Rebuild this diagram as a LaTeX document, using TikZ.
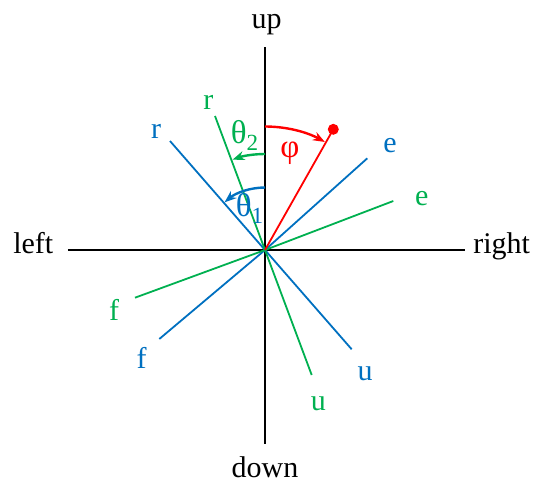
\documentclass[tikz,border=0pt]{standalone}
\usepackage{fontspec}
\setmainfont{Liberation Serif}
\usetikzlibrary{arrows.meta}
\definecolor{mblue}{RGB}{0,112,192}
\definecolor{mgreen}{RGB}{0,176,80}
\definecolor{mred}{RGB}{255,0,0}
\begin{document}
\begin{tikzpicture}[x=1pt,y=1pt,
  lbl/.style={anchor=base,inner sep=0pt,font=\fontsize{30}{36}\selectfont},
  grk/.style={anchor=base,inner sep=0pt,font=\fontsize{33}{38}\selectfont},
  axisline/.style={line width=2pt,black},
  bl/.style={line width=1.8pt,mblue},
  gl/.style={line width=1.8pt,mgreen},
  rl/.style={line width=1.8pt,mred},
  ang/.style={line width=2.4pt,-{Stealth[length=12pt,width=9pt]}}]
\useasboundingbox (-265,-233) rectangle (272,250);
% origin and end points
\coordinate (o) at (0,0);
\coordinate (axL) at (-197,0);
\coordinate (axR) at (200,0);
\coordinate (axT) at (0,203);
\coordinate (axB) at (0,-194);
\coordinate (br) at (-95,109);
\coordinate (bf) at (-105.7,-89);
\coordinate (bu) at (86.7,-99.3);
\coordinate (be) at (102.3,91.7);
\coordinate (gr) at (-50,134);
\coordinate (gf) at (-130,-47.7);
\coordinate (gu) at (46.7,-125);
\coordinate (ge) at (128.3,49);
\coordinate (dot) at (68.3,120.7);
% axes
\draw[axisline] (axL) -- (axR);
\draw[axisline] (axT) -- (axB);
% blue frame
\draw[bl] (br) -- (o) -- (bu);
\draw[bl] (bf) -- (o) -- (be);
% green frame
\draw[gl] (gr) -- (o) -- (gu);
\draw[gl] (gf) -- (o) -- (ge);
% red direction
\draw[rl] (o) -- (dot);
\fill[mred] (dot) circle (5.5);
% angle arcs
\draw[ang,mred] (0,123.5) arc[start angle=90,end angle=61,radius=123.5];
\draw[ang,mgreen] (0,96) arc[start angle=90,end angle=109.8,radius=96];
\draw[ang,mblue] (0,62.5) arc[start angle=90,end angle=130.3,radius=62.5];
% axis labels
\node[lbl] (up) at (1.7,222) {up};
\node[lbl] (down) at (0,-227.3) {down};
\node[lbl] (left) at (-231.7,-3.3) {left};
\node[lbl] (right) at (236.7,-3.3) {right};
% frame labels
\node[lbl,mblue] (lbr) at (-109,111.7) {r};
\node[lbl,mgreen] (lgr) at (-56.7,140.7) {r};
\node[lbl,mblue] (lbe) at (125,97.7) {e};
\node[lbl,mgreen] (lge) at (156.7,45) {e};
\node[lbl,mgreen] (lgf) at (-151,-70) {f};
\node[lbl,mblue] (lbf) at (-123.3,-118.3) {f};
\node[lbl,mgreen] (lgu) at (53.3,-160) {u};
\node[lbl,mblue] (lbu) at (100,-130) {u};
% angle labels
\node[grk,mgreen] (th2) at (-20.3,106.7) {θ\textsubscript{2}};
\node[grk,mred] (phi) at (25,93) {φ};
\node[grk,mblue] (th1) at (-15.3,33.3) {θ\textsubscript{1}};
\end{tikzpicture}
\end{document}
